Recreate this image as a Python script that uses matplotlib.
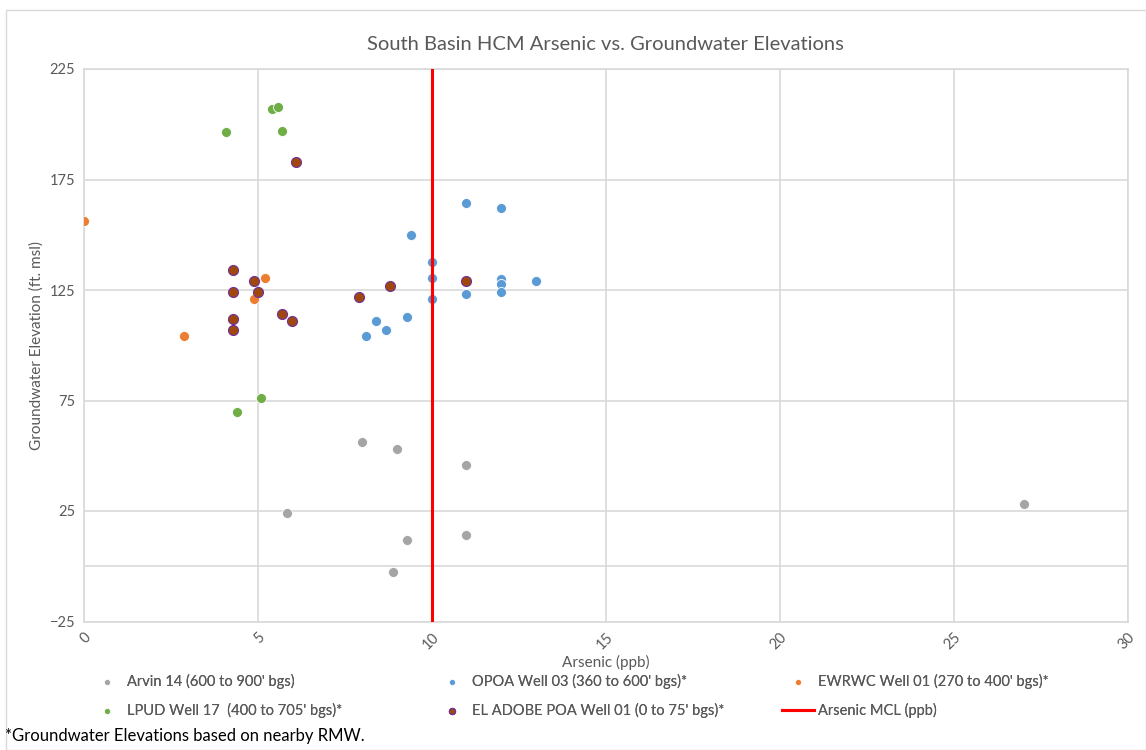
import numpy as np
import matplotlib.pyplot as plt
from matplotlib.lines import Line2D
from matplotlib.patches import Rectangle

plt.rcParams['font.family'] = ['Lato', 'DejaVu Sans']

# Arsenic (ppb) vs groundwater elevation (ft. msl) for each well
arvin_x = [8.0, 9.0, 11.0, 5.85, 27.0, 9.3, 11.0, 8.9]
arvin_y = [56, 53, 46, 24, 28, 12, 14, -2.5]

opoa_x = [11.0, 12.0, 13.0, 9.4, 10.0, 10.0, 10.0, 11.0, 12.0, 12.0, 12.0, 8.4, 8.7, 8.1, 9.3]
opoa_y = [164.5, 162, 129, 150, 137.5, 130.5, 121, 123, 130, 127.5, 124, 111, 107, 104, 113]

ewrwc_x = [0.0, 2.9, 4.9, 5.2]
ewrwc_y = [156, 104, 121, 130.5]

lpud_x = [4.1, 5.4, 5.6, 5.7, 5.1, 4.4]
lpud_y = [196.5, 207, 208, 197, 76, 70]

adobe_x = [6.1, 4.3, 4.9, 4.3, 5.0, 4.3, 4.3, 5.7, 6.0, 7.9, 8.8, 11.0]
adobe_y = [183, 134, 129, 124, 124, 112, 107, 114, 111, 122, 127, 129]

mcl_x = [10, 10]
mcl_y = [-25, 225]

fig = plt.figure(figsize=(11.46, 7.5), dpi=100)
ax = fig.add_axes([83.5 / 1146, 1 - 621.5 / 750, (1128 - 83.5) / 1146, (621.5 - 69) / 750])

grid_c = '#D9D9D9'
txt_c = '#595959'
ms = 52

ax.scatter(arvin_x, arvin_y, s=ms, color='#A5A5A5', edgecolors='white', linewidths=0.6, zorder=3,
           label="Arvin 14 (600 to 900' bgs)")
ax.scatter(opoa_x, opoa_y, s=ms, color='#5B9BD5', edgecolors='white', linewidths=0.6, zorder=3,
           label="OPOA Well 03 (360 to 600' bgs)*")
ax.scatter(ewrwc_x, ewrwc_y, s=ms, color='#ED7D31', edgecolors='white', linewidths=0.6, zorder=3,
           label="EWRWC Well 01 (270 to 400' bgs)*")
ax.scatter(lpud_x, lpud_y, s=ms, color='#70AD47', edgecolors='white', linewidths=0.6, zorder=3,
           label="LPUD Well 17  (400 to 705' bgs)*")
ax.scatter(adobe_x, adobe_y, s=ms, color='#9E480E', edgecolors='#7030A0', linewidths=0.8, zorder=3,
           label="EL ADOBE POA Well 01 (0 to 75' bgs)*")
ax.plot(mcl_x, mcl_y, color='#FF0000', linewidth=2.2, zorder=4, label='Arsenic MCL (ppb)')

ax.set_xlim(0, 30)
ax.set_ylim(-25, 225)
ax.set_xticks(np.arange(0, 31, 5))
ax.set_yticks(np.arange(-25, 226, 50))
ax.grid(True, color=grid_c, linewidth=1.2)
ax.axhline(0, color=grid_c, linewidth=1.2, zorder=1)
ax.set_axisbelow(True)
for s in ax.spines.values():
    s.set_color(grid_c)
    s.set_linewidth(1.2)
ax.tick_params(length=0, colors=txt_c, labelsize=10.5, pad=6)
for lab in ax.get_xticklabels():
    lab.set_rotation(45)
    lab.set_ha('right')
    lab.set_va('top')
    lab.set_rotation_mode('anchor')

ax.set_title('South Basin HCM Arsenic vs. Groundwater Elevations', color=txt_c, fontsize=14.5, pad=14)
ax.set_xlabel('Arsenic (ppb)', color=txt_c, fontsize=11, labelpad=2)
ax.set_ylabel('Groundwater Elevation (ft. msl)', color=txt_c, fontsize=11, labelpad=4)

# legend: three columns, filled row by row
handles, labels = ax.get_legend_handles_labels()
handles[-1] = Line2D([0], [0], color='#FF0000', linewidth=2.2)
col_x = [91, 436, 782]
for i, cx in enumerate(col_x):
    idx = [i, i + 3]
    lg = fig.legend([handles[j] for j in idx], [labels[j] for j in idx], loc='upper left',
                    bbox_to_anchor=(cx / 1146, 1 - 674 / 750), frameon=False, fontsize=10.5,
                    labelcolor=txt_c, handlelength=2.2, handletextpad=0.3, labelspacing=0.95,
                    markerscale=0.62, borderaxespad=0, borderpad=0)
    fig.add_artist(lg)

fig.text(5 / 1146, 1 - 736 / 750, '*Groundwater Elevations based on nearby RMW.', fontsize=12,
         va='center', ha='left', color='black')

fig.patches.append(Rectangle((6 / 1146, 0), 1 - 6 / 1146, 1 - 10 / 750, transform=fig.transFigure,
                             fill=False, edgecolor=grid_c, linewidth=1.0))

fig.savefig('out.png', dpi=100)
